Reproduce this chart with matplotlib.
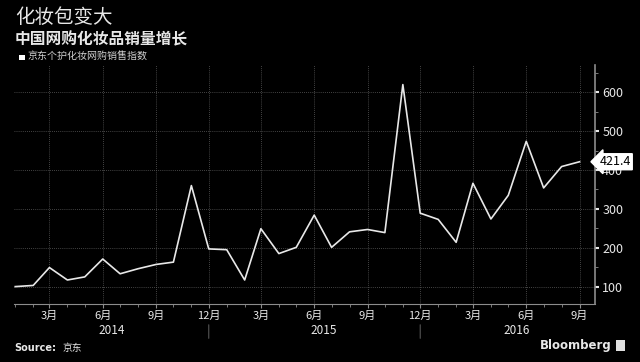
import matplotlib
matplotlib.use("Agg")
import matplotlib.pyplot as plt
import matplotlib.dates as mdates
from matplotlib.ticker import MultipleLocator
from matplotlib.patches import Rectangle
import pandas as pd

plt.rcParams['font.family'] = ['Noto Sans CJK SC', 'DejaVu Sans']

# JD personal care / cosmetics online sales index, monthly
months = pd.date_range("2014-01-01", "2016-09-01", freq="MS")
values = [100, 103, 149, 117, 125, 171, 133, 146, 157, 163, 360, 197,
          195, 117, 249, 185, 201, 284, 201, 241, 247, 239, 620, 289,
          273, 214, 366, 274, 335, 474, 354, 409, 421.4]
years = [2014, 2015, 2016]
y_ticks = [100, 200, 300, 400, 500, 600]

title = "化妆包变大"
subtitle = "中国网购化妆品销量增长"
legend_label = "京东个护化妆网购销售指数"

fg = "#e8e8e8"
grid_c = "#5a5a5a"
spine_c = "#8c8c8c"

fig = plt.figure(figsize=(6.4, 3.62), dpi=100, facecolor="black")
ax = fig.add_axes([0.022, 0.160, 0.908, 0.660], facecolor="black")

ax.plot(months, values, color=fg, lw=1.2)

x0 = months[0] - pd.Timedelta(days=2)
x1 = months[-1] + pd.Timedelta(days=27)
ax.set_xlim(x0, x1)
ax.set_ylim(55, 670)

# axes styling
for s in ["left", "top"]:
    ax.spines[s].set_visible(False)
ax.spines["right"].set_color(spine_c)
ax.spines["bottom"].set_color(spine_c)
ax.spines["right"].set_linewidth(1.2)

ax.yaxis.tick_right()
ax.set_yticks(y_ticks)
ax.yaxis.set_minor_locator(MultipleLocator(50))
ax.tick_params(axis="y", which="major", direction="out", length=3, width=1.5,
               color=fg, labelcolor=fg, labelsize=9, pad=2)
ax.tick_params(axis="y", which="minor", direction="out", length=2, color=spine_c)

ax.xaxis.set_major_locator(mdates.MonthLocator(bymonth=[3, 6, 9, 12]))
ax.xaxis.set_minor_locator(mdates.MonthLocator())
ax.xaxis.set_major_formatter(mdates.DateFormatter("%-m月"))
ax.tick_params(axis="x", which="major", direction="out", length=3, color=spine_c,
               labelcolor=fg, labelsize=8, pad=2)
ax.tick_params(axis="x", which="minor", direction="out", length=2, color=spine_c)

ax.grid(True, which="major", color=grid_c, ls=(0, (1, 1.5)), lw=0.6)

# year labels and separators below the axis
for yr in years:
    start = max(pd.Timestamp(f"{yr}-01-01"), x0)
    end = min(pd.Timestamp(f"{yr}-12-01"), x1)
    mid = start + (end - start) / 2
    ax.annotate(str(yr), xy=(mdates.date2num(mid), 0), xycoords=("data", "axes fraction"),
                xytext=(0, -14), textcoords="offset points", ha="center", va="top",
                color=fg, fontsize=8.5)
    if yr != years[-1]:
        sep = mdates.date2num(pd.Timestamp(f"{yr}-12-01"))
        ax.annotate("", xy=(sep, -0.075), xycoords=("data", "axes fraction"),
                    xytext=(sep, -0.155), textcoords=("data", "axes fraction"),
                    arrowprops=dict(arrowstyle="-", color="#555555", lw=0.8))

# last value label
ax.annotate(f"{values[-1]:.1f}", xy=(1, values[-1]), xycoords=("axes fraction", "data"),
            xytext=(3, 0), textcoords="offset points", ha="left", va="center",
            fontsize=9, color="black",
            bbox=dict(boxstyle="larrow,pad=0.12", fc="white", ec="white"))

# titles
fig.text(0.023, 0.952, title, color=fg, fontsize=14, ha="left", va="center")
fig.text(0.023, 0.890, subtitle, color=fg, fontsize=11.3, fontweight="bold",
         ha="left", va="center")
fig.patches.append(Rectangle((0.030, 0.833), 0.009, 0.016, transform=fig.transFigure,
                             facecolor="white", edgecolor="none"))
fig.text(0.043, 0.842, legend_label, color="#d0d0d0", fontsize=7.2,
         ha="left", va="center")

# footer
fig.text(0.023, 0.038, "Source:", color=fg, fontsize=7, fontweight="bold",
         ha="left", va="center", family="DejaVu Sans")
fig.text(0.098, 0.038, "京东", color=fg, fontsize=7, ha="left", va="center")
fig.text(0.955, 0.045, "Bloomberg", color=fg, fontsize=8.5, fontweight="bold",
         ha="right", va="center", family="DejaVu Sans")
fig.patches.append(Rectangle((0.962, 0.030), 0.014, 0.030, transform=fig.transFigure,
                             facecolor="#e0e0e0", edgecolor="none"))

fig.savefig("out.png", dpi=100, facecolor="black")
